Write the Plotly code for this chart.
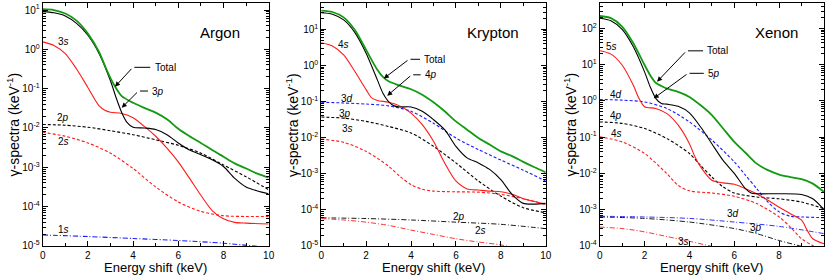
import numpy as np
import plotly.graph_objects as go

# ---------------- DATA (log10 of spectrum values) ----------------
# Argon
ar_total_x = [0, 0.5, 1, 1.5, 2, 2.5, 2.75, 3, 3.25, 3.5, 4, 4.5, 5, 5.5, 6, 6.5, 7, 7.5, 8, 8.5, 9, 9.5, 10]
ar_total_log = [1.02, 1.0, 0.91, 0.73, 0.40, -0.07, -0.41, -0.73, -0.99, -1.19, -1.36, -1.49, -1.61, -1.78, -2.02,
                -2.21, -2.38, -2.56, -2.73, -2.90, -3.03, -3.16, -3.26]
ar_3p_x = [0, 0.5, 1, 1.5, 2, 2.5, 3, 3.25, 3.5, 3.75, 4, 4.5, 5, 5.5, 6, 6.5, 7, 7.5, 8, 8.5, 9, 9.5, 10]
ar_3p_log = [0.96, 0.93, 0.85, 0.66, 0.36, -0.11, -0.80, -1.23, -1.61, -1.87, -1.98, -2.0, -2.04, -2.17, -2.38,
             -2.56, -2.68, -2.81, -2.98, -3.28, -3.50, -3.60, -3.67]
ar_3s_x = [0, 0.5, 1, 1.5, 2, 2.5, 2.75, 3, 3.5, 4, 4.5, 5, 5.5, 6, 6.5, 7, 7.5, 8, 8.5, 9, 10]
ar_3s_log = [0.19, 0.10, -0.11, -0.50, -0.97, -1.44, -1.55, -1.60, -1.63, -1.74, -1.96, -2.21, -2.51, -2.86,
             -3.28, -3.71, -4.10, -4.31, -4.40, -4.42, -4.44]
ar_inner_x = [0, 1, 2, 3, 4, 5, 6, 7, 8, 9, 10]
ar_2p_log = [-1.91, -1.93, -1.98, -2.07, -2.17, -2.30, -2.44, -2.64, -2.94, -3.24, -3.57]
ar_2s_log = [-2.11, -2.21, -2.38, -2.64, -3.03, -3.50, -3.88, -4.12, -4.23, -4.25, -4.25]
ar_1s_x = [0, 2, 4, 6, 8, 10]
ar_1s_log = [-4.72, -4.76, -4.81, -4.86, -4.93, -5.04]

# Krypton
kr_total_x = [0, 0.5, 1, 1.5, 2, 2.5, 2.75, 3, 3.5, 4, 4.5, 5, 5.5, 6, 6.5, 7, 7.5, 8, 8.5, 9, 9.5, 10]
kr_total_log = [1.52, 1.48, 1.33, 0.98, 0.43, -0.12, -0.32, -0.44, -0.56, -0.66, -0.81, -1.02, -1.27, -1.55,
                -1.78, -2.01, -2.19, -2.38, -2.51, -2.67, -2.82, -2.96]
kr_4p_x = [0, 0.5, 1, 1.5, 2, 2.5, 2.75, 3, 3.25, 3.5, 4, 4.5, 5, 5.5, 6, 6.5, 7, 7.5, 8, 8.5, 9, 9.5, 10]
kr_4p_log = [1.46, 1.42, 1.26, 0.91, 0.34, -0.40, -0.77, -1.0, -1.12, -1.15, -1.15, -1.27, -1.50, -1.78, -2.24,
             -2.56, -2.70, -2.88, -3.16, -3.57, -3.82, -3.84, -3.82]
kr_4s_x = [0, 0.5, 1, 1.5, 2, 2.25, 2.5, 3, 3.5, 4, 4.5, 5, 5.5, 6, 6.5, 7, 7.5, 8, 8.5, 9, 9.5, 10]
kr_4s_log = [0.63, 0.54, 0.29, -0.17, -0.67, -0.90, -0.97, -1.02, -1.12, -1.32, -1.64, -2.10, -2.70, -3.20,
             -3.42, -3.45, -3.48, -3.50, -3.57, -3.69, -3.77, -3.85]
kr_inner_x = [0, 1, 2, 3, 4, 5, 6, 7, 8, 9, 10]
kr_3d_log = [-1.02, -1.04, -1.07, -1.12, -1.27, -1.60, -2.01, -2.33, -2.62, -2.90, -3.20]
kr_3p_log = [-1.43, -1.46, -1.55, -1.69, -1.87, -2.24, -2.70, -3.20, -3.62, -3.94, -4.08]
kr_3s_x = [0, 1, 2, 3, 3.5, 4, 4.5, 5, 6, 7, 8, 9, 10]
kr_3s_log = [-2.04, -2.13, -2.38, -2.79, -3.07, -3.30, -3.43, -3.48, -3.50, -3.51, -3.57, -3.69, -3.85]
kr_2p_x = [0, 2, 4, 6, 8, 10]
kr_2p_log = [-4.22, -4.24, -4.28, -4.34, -4.40, -4.52]
kr_2s_x = [0, 1, 2, 3, 4, 5, 6, 7, 8, 9, 10]
kr_2s_log = [-4.24, -4.28, -4.34, -4.43, -4.56, -4.68, -4.80, -4.89, -4.97, -5.09, -5.18]

# Xenon
xe_total_x = [0, 0.5, 1, 1.5, 2, 2.25, 2.5, 2.75, 3, 3.5, 4, 4.5, 5, 5.5, 6, 6.5, 7, 7.5, 8, 8.5, 9, 9.5, 10]
xe_total_log = [2.34, 2.28, 2.05, 1.59, 0.99, 0.71, 0.50, 0.41, 0.34, 0.25, 0.11, -0.12, -0.39, -0.76, -1.13,
                -1.43, -1.73, -1.91, -2.03, -2.10, -2.16, -2.28, -2.51]
xe_5p_x = [0, 0.5, 1, 1.5, 2, 2.25, 2.5, 2.75, 3, 3.5, 4, 4.5, 5, 5.5, 6, 6.5, 6.75, 7, 8, 9, 9.5, 10]
xe_5p_log = [2.28, 2.21, 1.97, 1.49, 0.80, 0.39, 0.07, -0.07, -0.09, -0.15, -0.33, -0.72, -1.18, -1.64, -2.0,
             -2.42, -2.54, -2.56, -2.56, -2.58, -2.70, -3.0]
xe_5s_x = [0, 0.5, 1, 1.5, 1.75, 2, 2.5, 3, 3.5, 4, 4.25, 4.5, 5, 5.5, 6, 6.5, 7, 7.5, 8, 8.5, 9, 9.25, 9.5, 10]
xe_5s_log = [1.38, 1.29, 0.99, 0.43, 0.07, -0.16, -0.21, -0.35, -0.67, -1.18, -1.55, -1.82, -2.19, -2.26, -2.30,
             -2.42, -2.56, -2.74, -2.93, -3.11, -3.29, -3.57, -3.80, -3.94]
xe_4d_x = [0, 1, 2, 3, 4, 5, 6, 6.5, 7, 7.5, 8, 8.5, 9, 10]
xe_4d_log = [0.04, 0.02, -0.03, -0.21, -0.58, -1.08, -1.68, -2.05, -2.42, -2.79, -3.06, -3.18, -3.20, -3.22]
xe_4p_x = [0, 1, 2, 3, 4, 4.5, 5, 5.5, 6, 7, 8, 9, 10]
xe_4p_log = [-0.58, -0.62, -0.76, -1.04, -1.45, -1.78, -2.10, -2.37, -2.54, -2.65, -2.70, -2.79, -2.97]
xe_4s_x = [0, 1, 2, 3, 3.5, 4, 5, 6, 7, 8, 8.5, 9, 9.5, 10]
xe_4s_log = [-0.99, -1.13, -1.45, -2.01, -2.33, -2.48, -2.54, -2.63, -2.83, -3.20, -3.48, -3.80, -3.99, -4.08]
xe_3d_x = [0, 2, 4, 6, 8, 10]
xe_3d_log = [-3.18, -3.20, -3.24, -3.34, -3.46, -3.66]
xe_3p_x = [0, 2, 4, 6, 7, 8, 9, 10]
xe_3p_log = [-3.20, -3.24, -3.34, -3.52, -3.66, -3.85, -4.01, -4.17]
xe_3s_x = [0, 1, 2, 3, 4, 5, 6]
xe_3s_log = [-3.48, -3.52, -3.61, -3.74, -3.87, -4.01, -4.14]

panel_titles = ["Argon", "Krypton", "Xenon"]
x_tick_vals = [0, 2, 4, 6, 8, 10]
y_tick_exps = [-5, -4, -3, -2, -1, 0, 1, 2]
y_tick_text = ["10<sup>%d</sup>" % e for e in y_tick_exps]

# ---------------- STYLE ----------------
FONT = "Liberation Sans, Arial, Helvetica, sans-serif"
GREEN = "#129a12"
RED = "#ff1a1a"
BLACK = "#000000"
BLUE = "#1a1aff"
DASH = "3px,2px"
DASHDOT = "5px,2px,1px,2px"

fig = go.Figure()


def add(xs, logs, color, dash, width, ax):
    fig.add_trace(go.Scatter(
        x=xs, y=10 ** np.array(logs), mode="lines",
        line=dict(color=color, dash=dash, width=width, shape="spline", smoothing=0.8),
        xaxis="x" + ax, yaxis="y" + ax, showlegend=False, hoverinfo="skip"))


# Argon
add(ar_inner_x, ar_2p_log, BLACK, DASH, 1.1, "")
add(ar_inner_x, ar_2s_log, RED, DASH, 1.1, "")
add(ar_1s_x, ar_1s_log, BLUE, DASHDOT, 1.1, "")
add(ar_3s_x, ar_3s_log, RED, "solid", 1.1, "")
add(ar_3p_x, ar_3p_log, BLACK, "solid", 1.1, "")
add(ar_total_x, ar_total_log, GREEN, "solid", 1.8, "")
# Krypton
add(kr_inner_x, kr_3d_log, BLUE, DASH, 1.1, "2")
add(kr_inner_x, kr_3p_log, BLACK, DASH, 1.1, "2")
add(kr_3s_x, kr_3s_log, RED, DASH, 1.1, "2")
add(kr_2p_x, kr_2p_log, BLACK, DASHDOT, 0.9, "2")
add(kr_2s_x, kr_2s_log, RED, DASHDOT, 0.9, "2")
add(kr_4s_x, kr_4s_log, RED, "solid", 1.1, "2")
add(kr_4p_x, kr_4p_log, BLACK, "solid", 1.1, "2")
add(kr_total_x, kr_total_log, GREEN, "solid", 1.8, "2")
# Xenon
add(xe_4d_x, xe_4d_log, BLUE, DASH, 1.1, "3")
add(xe_4p_x, xe_4p_log, BLACK, DASH, 1.1, "3")
add(xe_4s_x, xe_4s_log, RED, DASH, 1.1, "3")
add(xe_3d_x, xe_3d_log, BLUE, DASHDOT, 0.9, "3")
add(xe_3p_x, xe_3p_log, BLACK, DASHDOT, 0.9, "3")
add(xe_3s_x, xe_3s_log, RED, DASHDOT, 0.9, "3")
add(xe_5s_x, xe_5s_log, RED, "solid", 1.1, "3")
add(xe_5p_x, xe_5p_log, BLACK, "solid", 1.1, "3")
add(xe_total_x, xe_total_log, GREEN, "solid", 1.8, "3")

x_domains = [[0.0514, 0.3237], [0.387, 0.6575], [0.7225, 0.9928]]
y_ranges = [[-5.0, 1.17], [-5.0, 1.72], [-4.0, 2.69]]
y_domain = [0.112, 0.988]

axis_common = dict(showline=True, linecolor="black", linewidth=1, mirror="ticks", ticks="inside",
                   tickcolor="black", showgrid=False, zeroline=False, automargin=False,
                   tickfont=dict(family=FONT, size=10, color="black"))

layout = dict(
    template="none",
    width=830, height=277, margin=dict(l=0, r=0, t=0, b=0, pad=0),
    paper_bgcolor="white", plot_bgcolor="white",
    font=dict(family=FONT, color="black"),
)
for i, ax in enumerate(["", "2", "3"]):
    layout["xaxis" + ax] = dict(axis_common, domain=x_domains[i], range=[0, 10], anchor="y" + ax,
                                tickmode="array", tickvals=x_tick_vals, ticklen=5,
                                minor=dict(ticks="inside", ticklen=3, dtick=1, tickcolor="black",
                                           showgrid=False))
    layout["yaxis" + ax] = dict(axis_common, domain=y_domain, type="log", range=y_ranges[i],
                                anchor="x" + ax, tickmode="array",
                                tickvals=[10.0 ** e for e in y_tick_exps], ticktext=y_tick_text,
                                ticklen=5,
                                minor=dict(ticks="inside", ticklen=3, dtick="D1", tickcolor="black",
                                           showgrid=False))
fig.update_layout(**layout)

ann = []
# axis titles and panel names
for i, ax in enumerate(["", "2", "3"]):
    xc = (x_domains[i][0] + x_domains[i][1]) / 2
    ann.append(dict(xref="paper", yref="paper", x=xc, y=0.036, text="Energy shift (keV)", showarrow=False,
                    font=dict(size=13, family=FONT), xanchor="center", yanchor="middle"))
    ann.append(dict(xref="paper", yref="paper", x=x_domains[i][0] - 0.036, y=0.55,
                    text="γ-spectra (keV<sup>-1</sup>)", textangle=-90, showarrow=False,
                    font=dict(size=14, family=FONT), xanchor="center", yanchor="middle"))
title_pos = [(0.265, 0.881), (0.594, 0.881), (0.936, 0.883)]
for t, (px, py) in zip(panel_titles, title_pos):
    ann.append(dict(xref="paper", yref="paper", x=px, y=py, text=t, showarrow=False,
                    font=dict(size=15, family=FONT), xanchor="center", yanchor="middle"))

# orbital labels: (text, x, log y, axis)
labels = [
    ("3<i>s</i>", 0.92, 0.21, ""), ("2<i>p</i>", 0.92, -1.74, ""), ("2<i>s</i>", 0.92, -2.34, ""),
    ("1<i>s</i>", 0.92, -4.57, ""),
    ("4<i>s</i>", 1.01, 0.57, "2"), ("3<i>d</i>", 1.16, -0.92, "2"), ("3<i>p</i>", 1.08, -1.34, "2"),
    ("3<i>s</i>", 1.16, -1.75, "2"), ("2<i>p</i>", 6.14, -4.17, "2"), ("2<i>s</i>", 7.10, -4.58, "2"),
    ("5<i>s</i>", 0.52, 1.51, "3"), ("4<i>d</i>", 0.74, 0.19, "3"), ("4<i>p</i>", 0.74, -0.39, "3"),
    ("4<i>s</i>", 0.74, -0.90, "3"), ("3<i>d</i>", 5.95, -3.11, "3"), ("3<i>p</i>", 6.95, -3.48, "3"),
    ("3<i>s</i>", 3.72, -3.87, "3"),
]
for t, lx, ly, ax in labels:
    ann.append(dict(xref="x" + ax, yref="y" + ax, x=lx, y=ly, text=t, showarrow=False,
                    font=dict(size=10, family=FONT), xanchor="center", yanchor="middle"))

# leader lines: (text, tip x, tip logy, elbow x, elbow logy, end x, axis)
leaders = [
    ("Total", 3.2, -0.95, 3.99, -0.457, 4.76, ""),
    ("3<i>p</i>", 3.5, -1.485, 4.24, -1.06, 4.66, ""),
    ("Total", 2.79, -0.36, 3.91, 0.17, 4.40, "2"),
    ("4<i>p</i>", 2.94, -0.84, 4.03, -0.26, 4.43, "2"),
    ("Total", 2.56, 0.53, 3.87, 1.38, 4.61, "3"),
    ("5<i>p</i>", 2.41, 0.07, 3.94, 0.76, 4.64, "3"),
]
for t, tx, ty, ex, ey, hx, ax in leaders:
    ann.append(dict(xref="x" + ax, yref="y" + ax, axref="x" + ax, ayref="y" + ax,
                    x=tx, y=ty, ax=ex, ay=ey, text="", showarrow=True,
                    arrowhead=2, arrowsize=1, arrowwidth=1, arrowcolor="black"))
    ann.append(dict(xref="x" + ax, yref="y" + ax, axref="x" + ax, ayref="y" + ax,
                    x=hx, y=ey, ax=ex, ay=ey, text="", showarrow=True,
                    arrowhead=0, arrowwidth=1, arrowcolor="black"))
    ann.append(dict(xref="x" + ax, yref="y" + ax, x=hx + 0.1, y=ey, text=t, showarrow=False,
                    font=dict(size=10, family=FONT), xanchor="left", yanchor="middle"))

fig.update_layout(annotations=ann)
# remove the browser's default 8px page margin so the figure sits at the window origin
fig.write_html("out.html", config={"displayModeBar": False},
               post_script="document.body.style.margin='0';")
